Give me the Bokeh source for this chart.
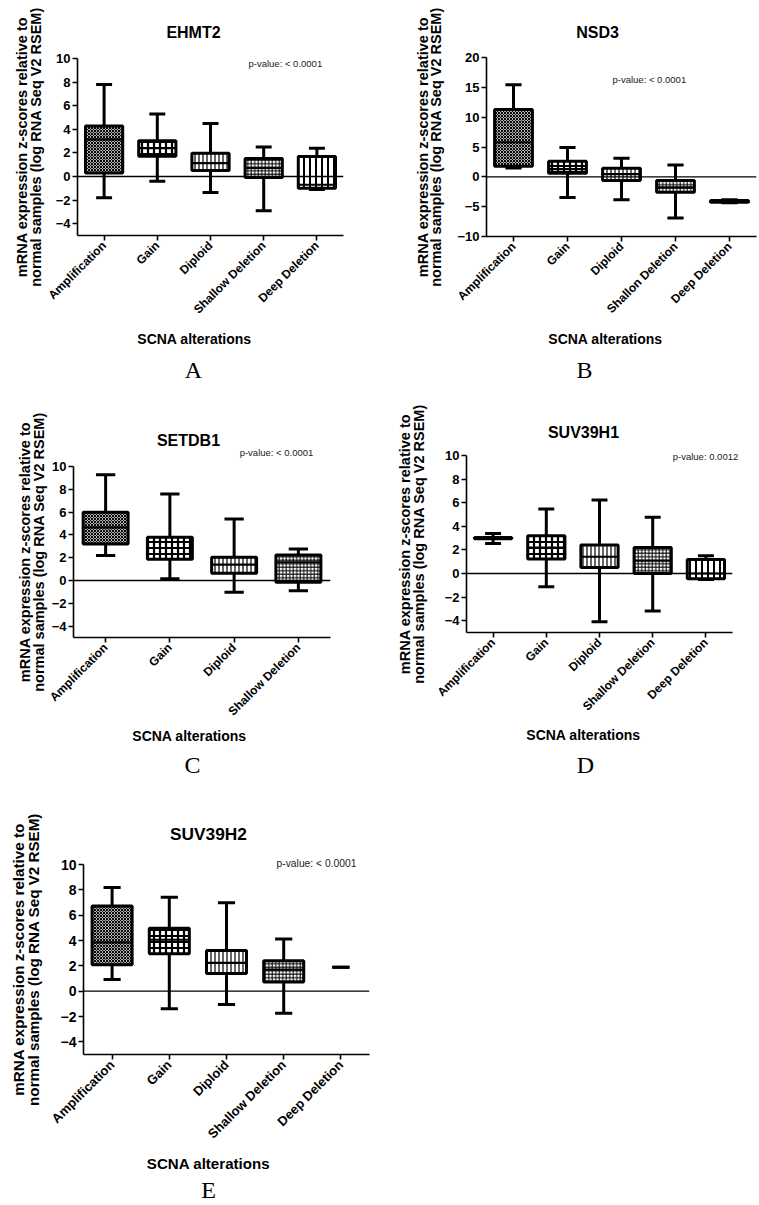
from math import pi
from bokeh.plotting import figure
from bokeh.models import (Range1d, FixedTicker, Span, Label, ColumnDataSource,
                          LinearAxis, LinearScale)
from bokeh.layouts import column, row
from bokeh.transform import dodge
from bokeh.embed import file_html
from bokeh.resources import INLINE

# ---------------- data ----------------
CATS5 = ["Amplification", "Gain", "Diploid", "Shallow Deletion", "Deep Deletion"]
CATS5_NSD3 = ["Amplification", "Gain", "Diploid", "Shallon Deletion", "Deep Deletion"]
CATS4 = ["Amplification", "Gain", "Diploid", "Shallow Deletion"]

ehmt2_min = [-1.8, -0.4, -1.35, -2.9, -1.1]
ehmt2_q1 = [0.3, 1.72, 0.5, -0.08, -1.0]
ehmt2_med = [3.15, 2.4, 1.13, 0.72, -0.7]
ehmt2_q3 = [4.28, 3.04, 1.97, 1.52, 1.7]
ehmt2_max = [7.8, 5.3, 4.5, 2.5, 2.4]

nsd3_min = [1.5, -3.46, -3.83, -6.9, -4.35]
nsd3_q1 = [1.78, 0.6, -0.63, -2.6, -4.25]
nsd3_med = [5.8, 1.3, 0.45, -1.75, -4.1]
nsd3_q3 = [11.3, 2.6, 1.45, -0.63, -3.95]
nsd3_max = [15.45, 4.9, 3.1, 2.0, -3.85]

setdb1_min = [2.19, 0.15, -1.02, -0.9]
setdb1_q1 = [3.2, 1.87, 0.64, -0.15]
setdb1_med = [4.66, 2.85, 1.4, 1.6]
setdb1_q3 = [5.98, 3.79, 2.04, 2.24]
setdb1_max = [9.27, 7.58, 5.39, 2.77]

suv39h1_min = [2.55, -1.13, -4.08, -3.17, -0.5]
suv39h1_q1 = [2.95, 1.22, 0.51, 0.0, -0.45]
suv39h1_med = [3.0, 2.2, 1.42, 1.08, 0.0]
suv39h1_q3 = [3.05, 3.2, 2.41, 2.21, 1.19]
suv39h1_max = [3.4, 5.47, 6.23, 4.76, 1.5]

suv39h2_min = [0.92, -1.39, -1.05, -1.75, 1.88]
suv39h2_q1 = [2.09, 2.96, 1.39, 0.73, 1.88]
suv39h2_med = [3.85, 4.06, 2.23, 1.7, 1.88]
suv39h2_q3 = [6.73, 4.97, 3.22, 2.41, 1.88]
suv39h2_max = [8.19, 7.41, 6.99, 4.11, 1.88]

# hatch style per category position
HATCH_PAT = ["diagonal_cross", "cross", "vertical_line", "cross", "vertical_line"]
HATCH_SCALE = [3.0, 6.0, 4.0, 3.5, 6.0]
HATCH_WEIGHT = [1.1, 2.2, 1.2, 1.0, 2.0]

FONT = "Liberation Sans"
SERIF = "Liberation Serif"
YL = "mRNA expression z-scores relative to\nnormal samples (log RNA Seq V2 RSEM)"


def text_axis(p, side, x, text, size, standoff, font=FONT, bold=False, color="black"):
    ax = LinearAxis(x_range_name="px", ticker=FixedTicker(ticks=[x]),
                    major_label_overrides={x: text})
    ax.axis_line_color = None
    ax.major_tick_line_color = None
    ax.minor_tick_line_color = None
    ax.major_tick_out = 0
    ax.major_tick_in = 0
    ax.minor_tick_out = 0
    ax.minor_tick_in = 0
    ax.major_label_standoff = standoff
    ax.major_label_text_font = font
    ax.major_label_text_font_size = f"{size:.1f}px"
    ax.major_label_text_font_style = "bold" if bold else "normal"
    ax.major_label_text_color = color
    p.add_layout(ax, side)


def panel(cats, mins, q1, med, q3, maxs, ymin, ymax, yticks, fig, frame, cfg, sc=1.0):
    fx, fy, fw, fh = fig
    left, right, top, bottom = frame
    n = len(cats)
    pos = list(range(n))
    p = figure(width=fw, height=fh, x_range=Range1d(-0.5, n - 0.5),
               y_range=Range1d(ymin, ymax), output_backend="svg", toolbar_location=None,
               min_border_left=left - fx, min_border_right=fx + fw - right,
               min_border_top=top - fy, min_border_bottom=fy + fh - bottom)
    p.extra_x_ranges = {"px": Range1d(left, right)}
    p.extra_x_scales = {"px": LinearScale()}
    p.outline_line_color = None
    p.grid.visible = False
    p.background_fill_color = "white"
    p.border_fill_color = "white"

    ya = p.yaxis[0]
    ya.ticker = FixedTicker(ticks=yticks)
    ya.minor_tick_line_color = None
    ya.major_tick_out = 5
    ya.major_tick_in = 0
    ya.axis_line_width = 1.6
    ya.major_tick_line_width = 1.6
    ya.major_label_text_font = FONT
    ya.major_label_text_font_style = "bold"
    ya.major_label_text_font_size = f"{13 * sc:.1f}px"
    ya.major_label_text_color = "black"
    ya.major_label_standoff = 2
    ya.axis_label = YL
    ya.axis_label_text_font = FONT
    ya.axis_label_text_font_style = "bold"
    ya.axis_label_text_font_size = f"{cfg['ylab_size']:.1f}px"
    ya.axis_label_text_line_height = 0.85
    ya.axis_label_text_color = "black"
    ya.axis_label_standoff = cfg["ylab_standoff"]

    xa = p.xaxis[0]
    xa.ticker = FixedTicker(ticks=pos)
    xa.major_label_overrides = {i: c for i, c in zip(pos, cats)}
    xa.minor_tick_line_color = None
    xa.major_tick_out = 5
    xa.major_tick_in = 0
    xa.axis_line_width = 1.6
    xa.major_tick_line_width = 1.6
    xa.major_label_orientation = pi / 4
    xa.major_label_text_font = FONT
    xa.major_label_text_font_style = "bold"
    xa.major_label_text_font_size = f"{12 * sc:.1f}px"
    xa.major_label_text_color = "black"
    xa.major_label_standoff = 3

    p.add_layout(Span(location=0, dimension="width", line_color="black", line_width=1.4))

    src = ColumnDataSource(dict(x=pos, lo=mins, q1=q1, med=med, q3=q3, hi=maxs))
    box_idx = [i for i in range(n) if q3[i] > q1[i]]
    bsrc = ColumnDataSource(dict(
        x=[pos[i] for i in box_idx], q1=[q1[i] for i in box_idx],
        q3=[q3[i] for i in box_idx], med=[med[i] for i in box_idx],
        hp=[HATCH_PAT[i] for i in box_idx], hs=[HATCH_SCALE[i] for i in box_idx],
        hw=[HATCH_WEIGHT[i] for i in box_idx]))

    p.segment(x0="x", y0="lo", x1="x", y1="hi", source=src, line_color="black", line_width=3)
    p.vbar(x="x", top="q3", bottom="q1", width=0.7, source=bsrc, fill_color="white",
           line_color="black", line_width=3, hatch_pattern="hp", hatch_scale="hs",
           hatch_weight="hw", hatch_color="black")
    p.segment(x0=dodge("x", -0.35), y0="med", x1=dodge("x", 0.35), y1="med",
              source=bsrc, line_color="black", line_width=2.2)
    for col in ("lo", "hi"):
        p.segment(x0=dodge("x", -0.15), y0=col, x1=dodge("x", 0.15), y1=col,
                  source=src, line_color="black", line_width=3)

    # texts above the frame (nearest first)
    pv_text, pv_x, pv_y = cfg["pval"]
    if cfg["pval_mode"] == "inside":
        p.add_layout(Label(x=pv_x - left, y=bottom - pv_y, x_units="screen", y_units="screen",
                           text=pv_text, text_font=FONT, text_font_size=f"{9.5 * sc:.1f}px",
                           text_align="left", text_baseline="middle", text_color="#222222"))
    else:
        text_axis(p, "above", pv_x, pv_text, 9.5 * sc, cfg["pval_standoff"], color="#222222")
    title, tx = cfg["title"]
    text_axis(p, "above", tx, title, 16 * sc, cfg["title_standoff"], bold=True)

    # texts below the x axis
    text_axis(p, "below", cfg["xlab_x"], "SCNA alterations", 14 * sc, cfg["xlab_standoff"], bold=True)
    text_axis(p, "below", cfg["letter_x"], cfg["letter"], cfg.get("letter_size", 24), cfg["letter_standoff"], font=SERIF)
    return p


T5 = [-4, -2, 0, 2, 4, 6, 8, 10]

pA = panel(CATS5, ehmt2_min, ehmt2_q1, ehmt2_med, ehmt2_q3, ehmt2_max, -5, 10, T5,
           (0, 0, 380, 400), (77, 343, 58, 235),
           dict(title=("EHMT2", 193), title_standoff=18,
                pval=("p-value: < 0.0001", 248, 63), pval_mode="inside",
                ylab_size=14.5, ylab_standoff=9, xlab_x=194, xlab_standoff=6, letter="A",
                letter_x=193, letter_standoff=7))

pB = panel(CATS5_NSD3, nsd3_min, nsd3_q1, nsd3_med, nsd3_q3, nsd3_max, -10, 20,
           [-10, -5, 0, 5, 10, 15, 20],
           (380, 0, 379, 400), (486, 756, 57, 236),
           dict(title=("NSD3", 597), title_standoff=17,
                pval=("p-value: < 0.0001", 612, 79), pval_mode="inside",
                ylab_size=14.5, ylab_standoff=10, xlab_x=605, xlab_standoff=7, letter="B",
                letter_x=584, letter_standoff=7))

pC = panel(CATS4, setdb1_min, setdb1_q1, setdb1_med, setdb1_q3, setdb1_max, -5, 10, T5,
           (0, 400, 380, 400), (73, 330, 466, 637),
           dict(title=("SETDB1", 188), title_standoff=-5,
                pval=("p-value: < 0.0001", 276, 453), pval_mode="above", pval_standoff=9,
                ylab_size=14.5, ylab_standoff=2, xlab_x=189, xlab_standoff=1, letter="C",
                letter_x=192, letter_standoff=5))

pD = panel(CATS5, suv39h1_min, suv39h1_q1, suv39h1_med, suv39h1_q3, suv39h1_max, -5, 10, T5,
           (380, 400, 379, 400), (466, 732, 455, 632),
           dict(title=("SUV39H1", 583), title_standoff=7,
                pval=("p-value: 0.0012", 705, 457), pval_mode="above", pval_standoff=-6,
                ylab_size=14.5, ylab_standoff=15, xlab_x=583, xlab_standoff=5, letter="D",
                letter_x=585, letter_standoff=6))

pE = panel(CATS5, suv39h2_min, suv39h2_q1, suv39h2_med, suv39h2_q3, suv39h2_max, -5, 10, T5,
           (0, 800, 380, 405), (83, 369, 864, 1055),
           dict(title=("SUV39H2", 208), title_standoff=11,
                pval=("p-value: < 0.0001", 316, 864), pval_mode="above", pval_standoff=-4,
                ylab_size=15.2, ylab_standoff=16, xlab_x=208, xlab_standoff=5, letter="E",
                letter_x=208, letter_size=24, letter_standoff=2),
           sc=1.08)

layout = column(row(column(pA), column(pB)), row(column(pC), column(pD)), row(column(pE)))
open("out.html", "w").write(file_html(layout, INLINE))
